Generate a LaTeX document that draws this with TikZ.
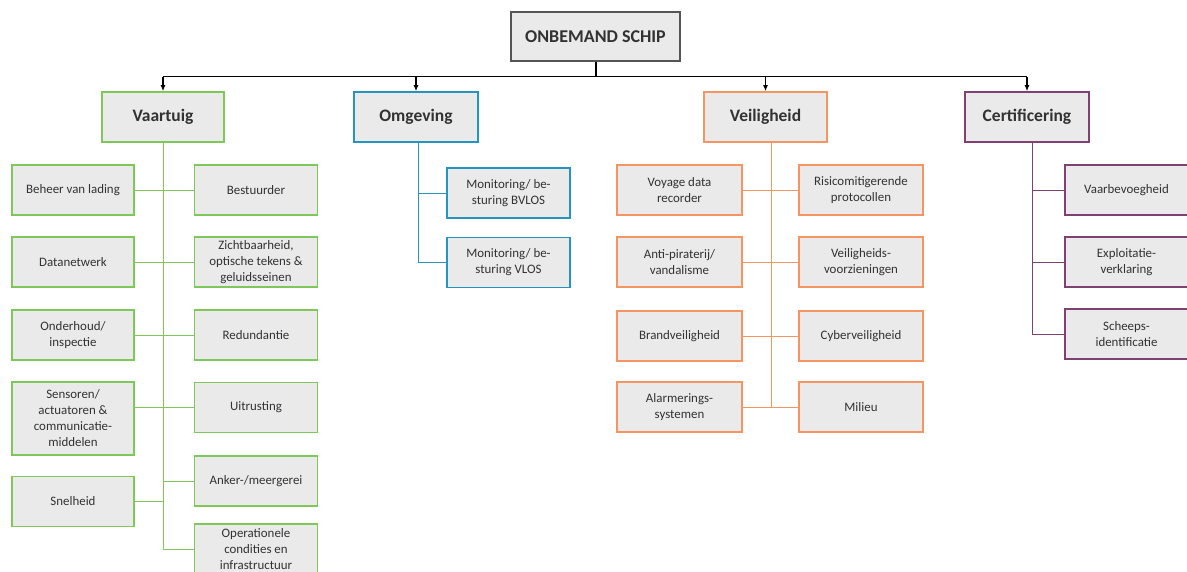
\documentclass[tikz,border=0pt]{standalone}
\usepackage{fontspec}
\setmainfont{Carlito}
\usepackage{xcolor}
\usepackage{tikz}
\usetikzlibrary{calc,arrows.meta}
\definecolor{boxgray}{RGB}{234,234,234}
\definecolor{txtgray}{RGB}{50,50,50}
\definecolor{rootline}{RGB}{85,85,85}
\definecolor{vgreen}{RGB}{125,200,88}
\definecolor{oblue}{RGB}{38,148,192}
\definecolor{vorange}{RGB}{245,150,98}
\definecolor{cpurple}{RGB}{128,64,116}

\begin{document}
\begin{tikzpicture}[x=1pt, y={(0,-1pt)},
    box/.style={draw, fill=boxgray, line width=1.6pt, align=center, inner sep=1pt,
        text=txtgray, font=\fontsize{12.9}{16}\selectfont},
    head/.style={box, minimum width=122pt, minimum height=50pt,
        font=\fontsize{17.5}{20}\selectfont\bfseries},
    leaf/.style={box, minimum width=123pt, minimum height=50pt},
    tall/.style={leaf, minimum height=73pt},
    link/.style={line width=0.8pt}]
        \useasboundingbox (0,0) rectangle (1187,572);
        \clip (0,0) rectangle (1187,572);

        % root
        \node[box, draw=rootline, line width=1.8pt, minimum width=169pt, minimum height=49pt,
            font=\fontsize{18}{20}\selectfont\bfseries] (root) at (595.5,36.5) {ONBEMAND SCHIP};

        % categories
        \node[head, draw=vgreen] (vt) at (163,117) {Vaartuig};
        \node[head, draw=oblue, minimum width=124pt] (om) at (416,117) {Omgeving};
        \node[head, draw=vorange, minimum width=123pt] (vh) at (765.5,117) {Veiligheid};
        \node[head, draw=cpurple, minimum width=124pt] (ct) at (1027,117) {Certificering};

        % bus
        \coordinate (bus) at ($(root.south)+(0,15)$);
        \draw[line width=2pt] (root.south) -- (bus);
        \draw[line width=1.1pt] (vt.north |- bus) -- (ct.north |- bus);
        \foreach \c in {vt,om,vh,ct}
            \draw[line width=1.1pt, -{Latex[length=6pt,width=5pt]}] (\c.north |- bus) -- (\c.north);

        % Vaartuig
        \node[leaf, draw=vgreen, minimum width=122pt] (lad) at (73,190) {Beheer van lading};
        \node[leaf, draw=vgreen] (bst) at (256,190) {Bestuurder};
        \node[leaf, draw=vgreen, minimum width=122pt] (dat) at (73,262) {Datanetwerk};
        \node[leaf, draw=vgreen] (zicht) at (256,262) {Zichtbaarheid,\\optische tekens \&\\geluidsseinen};
        \node[leaf, draw=vgreen, minimum width=122pt] (ond) at (73,335) {Onderhoud/\\inspectie};
        \node[leaf, draw=vgreen] (red) at (256,335) {Redundantie};
        \node[tall, draw=vgreen, minimum width=122pt] (sens) at (73,418.5) {Sensoren/\\actuatoren \&\\communicatie-\\middelen};
        \node[leaf, draw=vgreen] (uit) at (256,407.5) {Uitrusting};
        \node[leaf, draw=vgreen] (ank) at (256,481) {Anker-/meergerei};
        \node[leaf, draw=vgreen, minimum width=122pt] (snel) at (73,501.5) {Snelheid};
        \node[leaf, draw=vgreen] (oper) at (256,549) {Operationele\\condities en\\infrastructuur};

        \draw[link, vgreen] (vt.south) -- (vt.south |- oper.west) -- (oper.west);
        \draw[link, vgreen] (lad.east) -- (bst.west);
        \draw[link, vgreen] (dat.east) -- (zicht.west);
        \draw[link, vgreen] (ond.east) -- (red.west);
        \draw[link, vgreen] (sens.east |- uit.west) -- (uit.west);
        \draw[link, vgreen] (ank.west) -- (ank.west -| vt.south);
        \draw[link, vgreen] (snel.east) -- (snel.east -| vt.south);

        % Omgeving
        \node[leaf, draw=oblue] (bvlos) at (508.5,193) {Monitoring/ be-\\sturing BVLOS};
        \node[leaf, draw=oblue] (vlos) at (508.5,262.5) {Monitoring/ be-\\sturing VLOS};
        \coordinate (omtrunk) at ($(om.south)+(2,0)$);
        \draw[link, oblue] (omtrunk) -- (omtrunk |- vlos.west) -- (vlos.west);
        \draw[link, oblue] (bvlos.west) -- (bvlos.west -| omtrunk);

        % Veiligheid
        \node[leaf, draw=vorange, minimum width=125pt] (vdr) at (679.5,190) {Voyage data\\recorder};
        \node[leaf, draw=vorange, minimum width=124pt] (risk) at (861,190) {Risicomitigerende\\protocollen};
        \node[leaf, draw=vorange, minimum width=125pt] (anti) at (679.5,262) {Anti-piraterij/\\vandalisme};
        \node[leaf, draw=vorange, minimum width=124pt] (voorz) at (861,262) {Veiligheids-\\voorzieningen};
        \node[leaf, draw=vorange, minimum width=125pt] (brand) at (679.5,336) {Brandveiligheid};
        \node[leaf, draw=vorange, minimum width=124pt] (cyber) at (861,336) {Cyberveiligheid};
        \node[leaf, draw=vorange, minimum width=125pt] (alarm) at (679.5,407) {Alarmerings-\\systemen};
        \node[leaf, draw=vorange, minimum width=124pt] (mil) at (861,407) {Milieu};
        \coordinate (vhtrunk) at ($(vh.south)+(5.5,0)$);
        \draw[link, vorange] (vhtrunk) -- (vhtrunk |- alarm.east);
        \draw[link, vorange] (vdr.east) -- (risk.west);
        \draw[link, vorange] (anti.east) -- (voorz.west);
        \draw[link, vorange] (brand.east) -- (cyber.west);
        \draw[link, vorange] (alarm.east) -- (mil.west);

        % Certificering
        \node[leaf, draw=cpurple] (vaarb) at (1126.5,190) {Vaarbevoegheid};
        \node[leaf, draw=cpurple] (expl) at (1126.5,262) {Exploitatie-\\verklaring};
        \node[leaf, draw=cpurple] (sid) at (1126.5,334) {Scheeps-\\identificatie};
        \coordinate (cttrunk) at ($(ct.south)+(5,0)$);
        \draw[link, cpurple] (cttrunk) -- (cttrunk |- sid.west) -- (sid.west);
        \draw[link, cpurple] (vaarb.west) -- (vaarb.west -| cttrunk);
        \draw[link, cpurple] (expl.west) -- (expl.west -| cttrunk);
\end{tikzpicture}
\end{document}
